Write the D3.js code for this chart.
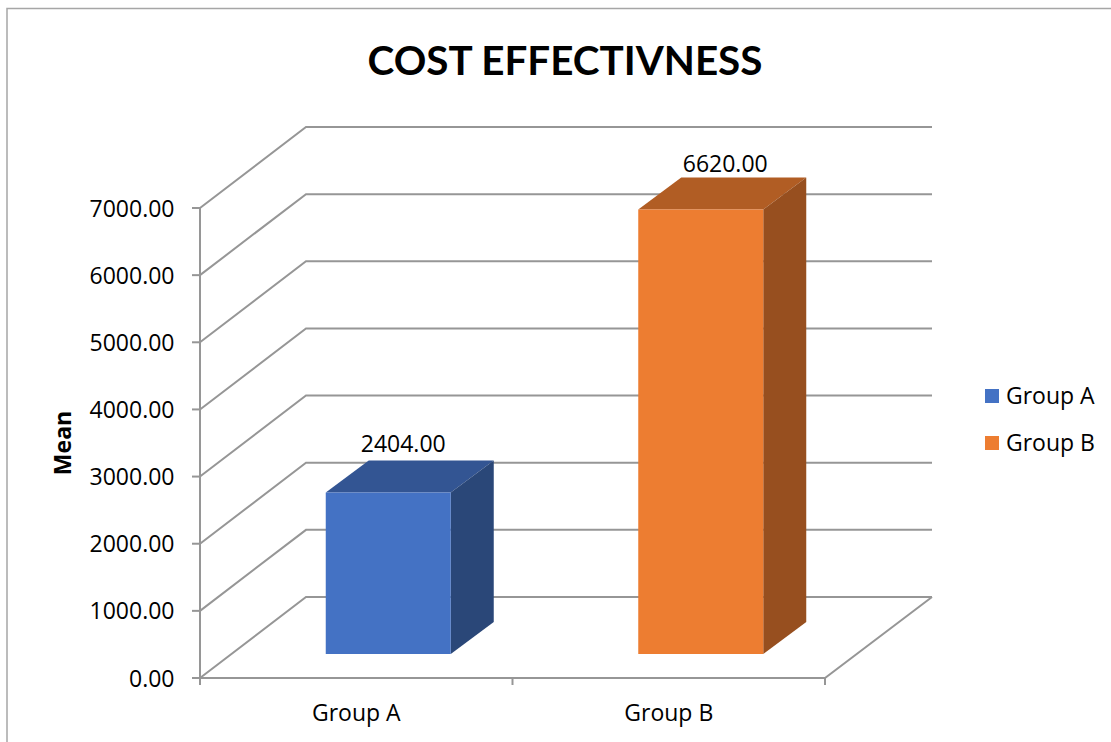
<!DOCTYPE html>
<html><head><meta charset="utf-8">
<script src="https://cdn.jsdelivr.net/npm/d3@7"></script>
<style>html,body{margin:0;padding:0;background:#fff;overflow:hidden}svg{display:block}text{font-family:"Open Sans",sans-serif;fill:#000}</style>
</head><body><svg id="c" width="1111" height="742"></svg>
<script>
const categories = ["Group A", "Group B"];
const values = [2404, 6620];
const tickValues = [0,1000,2000,3000,4000,5000,6000,7000];
const frontColors = ["#4472c4", "#ed7d31"];
const topColors = ["#335593", "#b15d24"];
const sideColors = ["#2a4778", "#974f1f"];
const titleText = "COST EFFECTIVNESS";
const axisTitle = "Mean";

const svg = d3.select("#c");
const x = d3.scaleBand().domain(categories).range([200, 825]).paddingInner(0).paddingOuter(0);
const y = d3.scaleLinear().domain([0, 7000]).range([678, 208]);
const GRID = "#969696";
const wall = {dx:106, dy:-81};
const bar = {dx:43, dy:-32, base:{dx:32, dy:-24}, w:125};
const FS = 23;
const labelShift = [[15,-9],[24.5,-6]];

svg.append("rect").attr("x",7).attr("y",8.5).attr("width",1140).attr("height",780)
  .attr("fill","none").attr("stroke","#a6a6a6").attr("stroke-width",1.5);

svg.append("text").attr("x",565).attr("y",75).attr("text-anchor","middle")
  .style("font-family","Lato").attr("font-size",40.4).attr("font-weight",700).text(titleText);

const line = d3.line();
const g = svg.append("g").attr("fill","none").attr("stroke",GRID).attr("stroke-width",2);
tickValues.forEach(v=>{
  const p = y(v);
  g.append("path").attr("d", line([[200,p],[200+wall.dx,p+wall.dy],[932,p+wall.dy]]));
});
g.append("path").attr("d", line([[200,678],[825,678],[825+wall.dx+1,678+wall.dy]]));
g.append("path").attr("d", line([[200,y(7000)],[200,685]]));
tickValues.forEach(v=>g.append("path").attr("d", line([[192,y(v)],[200,y(v)]])));
[...categories.map(c=>x(c)), 825].forEach(t=>g.append("path").attr("d", line([[t,678],[t,685]])));

const tickFmt = d3.format(".2f");
svg.append("g").selectAll("text").data(tickValues).join("text")
  .attr("x",174.5).attr("y",d=>y(d)+8.5).attr("text-anchor","end").attr("font-size",FS).text(tickFmt);

svg.append("g").selectAll("text").data(categories).join("text")
  .attr("x",d=>x(d)+x.bandwidth()/2).attr("y",720.5).attr("text-anchor","middle").attr("font-size",FS).text(d=>d);

svg.append("text").attr("transform","translate(71,443) rotate(-90)").attr("text-anchor","middle")
  .attr("font-size",23).attr("font-weight",700).text(axisTitle);

categories.forEach((c,i)=>{
  const cx = x(c)+x.bandwidth()/2+bar.base.dx;
  const l = cx-bar.w/2, r = cx+bar.w/2;
  const b = y(0)+bar.base.dy;
  const t = b-(y(0)-y(values[i]));
  const bg = svg.append("g");
  bg.append("path").attr("fill",topColors[i]).attr("d", line([[l,t],[l+bar.dx,t+bar.dy],[r+bar.dx,t+bar.dy],[r,t]])+"Z");
  bg.append("path").attr("fill",sideColors[i]).attr("d", line([[r,t],[r+bar.dx,t+bar.dy],[r+bar.dx,b+bar.dy],[r,b]])+"Z");
  bg.append("path").attr("fill",frontColors[i]).attr("d", line([[l,t],[r,t],[r,b],[l,b]])+"Z");
  svg.append("text").attr("x",cx+labelShift[i][0]).attr("y",t+bar.dy+labelShift[i][1]).attr("text-anchor","middle").attr("font-size",FS).text(tickFmt(values[i]));
});

const lg = svg.append("g").selectAll("g").data(categories).join("g");
lg.append("rect").attr("x",985).attr("y",(d,i)=>389+i*47).attr("width",14).attr("height",14).attr("fill",(d,i)=>frontColors[i]);
lg.append("text").attr("x",1006).attr("y",(d,i)=>404+i*47).attr("font-size",FS).text(d=>d);
</script></body></html>
